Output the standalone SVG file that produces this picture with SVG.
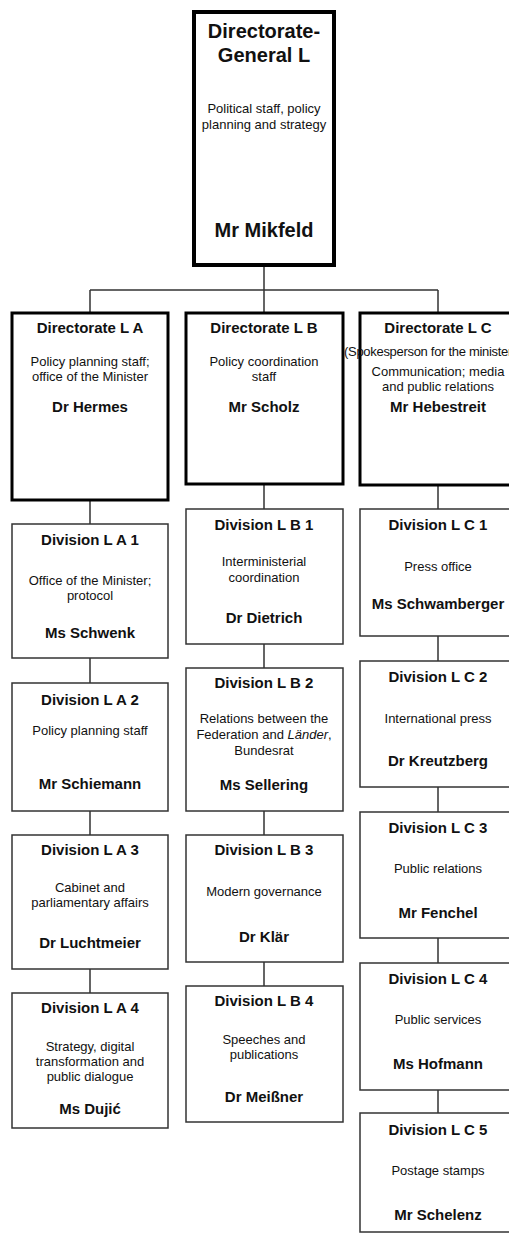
<svg xmlns="http://www.w3.org/2000/svg" width="509" height="1236" viewBox="0 0 509 1236">
<style>
text{font-family:"Liberation Sans",Arial,sans-serif;fill:#111;text-anchor:middle}
.h{font-size:15px;font-weight:bold}
.b{font-size:13px}
.t{font-size:20px;font-weight:bold}
.tb{font-size:13px}
.top{fill:#fff;stroke:#000;stroke-width:4}
.dir{fill:#fff;stroke:#000;stroke-width:3}
.div{fill:#fff;stroke:#333;stroke-width:1.5}
.c{stroke:#333;stroke-width:1.5;fill:none}
</style>
<rect width="509" height="1236" fill="#fff"/>
<g id="connectors">
<path class="c" d="M264 265V290M90 290H438M90 290V313M264 290V313M438 290V313"/>
<path class="c" d="M90 500V524M90 658V683M90 811V835M90 969V993"/>
<path class="c" d="M264 484V509M264 644V668M264 811V835M264 962V986"/>
<path class="c" d="M438 485V509M438 636V661M438 787V812M438 938V963M438 1090V1113"/>
</g>
<g id="dg">
<rect class="top" x="194" y="12" width="140" height="253"/>
<text class="t" x="264" y="38">Directorate-</text>
<text class="t" x="264" y="62">General L</text>
<text class="tb" x="264" y="113">Political staff, policy</text>
<text class="tb" x="264" y="129">planning and strategy</text>
<text class="t" x="264" y="237">Mr Mikfeld</text>
</g>
<g id="la">
<rect class="dir" x="12" y="313" width="156" height="187"/>
<text class="h" x="90" y="333">Directorate L A</text>
<text class="b" x="90" y="366">Policy planning staff;</text>
<text class="b" x="90" y="381">office of the Minister</text>
<text class="h" x="90" y="412">Dr Hermes</text>
</g>
<g id="lb">
<rect class="dir" x="186" y="313" width="157" height="171"/>
<text class="h" x="264" y="333">Directorate L B</text>
<text class="b" x="264" y="366">Policy coordination</text>
<text class="b" x="264" y="381">staff</text>
<text class="h" x="264" y="412">Mr Scholz</text>
</g>
<g id="lc">
<rect class="dir" x="360" y="313" width="157" height="172"/>
<text class="h" x="438" y="333">Directorate L C</text>
<text class="b" x="344" y="356" style="text-anchor:start;letter-spacing:-0.3px">(Spokesperson for the minister)</text>
<text class="b" x="438" y="376">Communication; media</text>
<text class="b" x="438" y="391">and public relations</text>
<text class="h" x="438" y="412">Mr Hebestreit</text>
</g>
<g id="la1">
<rect class="div" x="12" y="524" width="156" height="134"/>
<text class="h" x="90" y="545">Division L A 1</text>
<text class="b" x="90" y="585">Office of the Minister;</text>
<text class="b" x="90" y="600">protocol</text>
<text class="h" x="90" y="638">Ms Schwenk</text>
</g>
<g id="la2">
<rect class="div" x="12" y="683" width="156" height="128"/>
<text class="h" x="90" y="705">Division L A 2</text>
<text class="b" x="90" y="735">Policy planning staff</text>
<text class="h" x="90" y="789">Mr Schiemann</text>
</g>
<g id="la3">
<rect class="div" x="12" y="835" width="156" height="134"/>
<text class="h" x="90" y="855">Division L A 3</text>
<text class="b" x="90" y="892">Cabinet and</text>
<text class="b" x="90" y="907">parliamentary affairs</text>
<text class="h" x="90" y="948">Dr Luchtmeier</text>
</g>
<g id="la4">
<rect class="div" x="12" y="993" width="156" height="135"/>
<text class="h" x="90" y="1013">Division L A 4</text>
<text class="b" x="90" y="1051">Strategy, digital</text>
<text class="b" x="90" y="1066">transformation and</text>
<text class="b" x="90" y="1081">public dialogue</text>
<text class="h" x="90" y="1114">Ms Dujić</text>
</g>
<g id="lb1">
<rect class="div" x="186" y="509" width="157" height="135"/>
<text class="h" x="264" y="530">Division L B 1</text>
<text class="b" x="264" y="566">Interministerial</text>
<text class="b" x="264" y="582">coordination</text>
<text class="h" x="264" y="623">Dr Dietrich</text>
</g>
<g id="lb2">
<rect class="div" x="186" y="668" width="157" height="143"/>
<text class="h" x="264" y="688">Division L B 2</text>
<text class="b" x="264" y="723">Relations between the</text>
<text class="b" x="264" y="739">Federation and <tspan font-style="italic">Länder</tspan>,</text>
<text class="b" x="264" y="755">Bundesrat</text>
<text class="h" x="264" y="790">Ms Sellering</text>
</g>
<g id="lb3">
<rect class="div" x="186" y="835" width="157" height="127"/>
<text class="h" x="264" y="855">Division L B 3</text>
<text class="b" x="264" y="896">Modern governance</text>
<text class="h" x="264" y="942">Dr Klär</text>
</g>
<g id="lb4">
<rect class="div" x="186" y="986" width="157" height="136"/>
<text class="h" x="264" y="1006">Division L B 4</text>
<text class="b" x="264" y="1044">Speeches and</text>
<text class="b" x="264" y="1059">publications</text>
<text class="h" x="264" y="1102">Dr Meißner</text>
</g>
<g id="lc1">
<rect class="div" x="360" y="509" width="157" height="127"/>
<text class="h" x="438" y="530">Division L C 1</text>
<text class="b" x="438" y="571">Press office</text>
<text class="h" x="438" y="609">Ms Schwamberger</text>
</g>
<g id="lc2">
<rect class="div" x="360" y="661" width="157" height="126"/>
<text class="h" x="438" y="682">Division L C 2</text>
<text class="b" x="438" y="723">International press</text>
<text class="h" x="438" y="766">Dr Kreutzberg</text>
</g>
<g id="lc3">
<rect class="div" x="360" y="812" width="157" height="126"/>
<text class="h" x="438" y="833">Division L C 3</text>
<text class="b" x="438" y="873">Public relations</text>
<text class="h" x="438" y="918">Mr Fenchel</text>
</g>
<g id="lc4">
<rect class="div" x="360" y="963" width="157" height="127"/>
<text class="h" x="438" y="984">Division L C 4</text>
<text class="b" x="438" y="1024">Public services</text>
<text class="h" x="438" y="1069">Ms Hofmann</text>
</g>
<g id="lc5">
<rect class="div" x="360" y="1113" width="157" height="119"/>
<text class="h" x="438" y="1135">Division L C 5</text>
<text class="b" x="438" y="1175">Postage stamps</text>
<text class="h" x="438" y="1220">Mr Schelenz</text>
</g>
</svg>
